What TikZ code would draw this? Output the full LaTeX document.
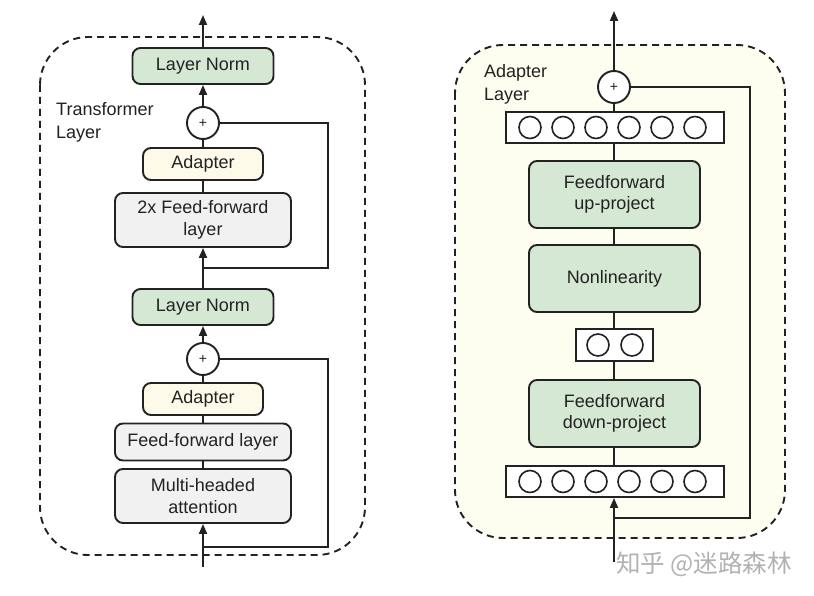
\documentclass[tikz,border=0pt]{standalone}
\usepackage{fontspec}
\setmainfont{Liberation Sans}
\newfontfamily\cjkfont{Noto Sans CJK SC}
\usetikzlibrary{arrows.meta}
\definecolor{gfill}{HTML}{D5E8D4}
\definecolor{yfill}{HTML}{FDFAEA}
\definecolor{grayfill}{HTML}{F1F1F1}
\definecolor{bgfill}{HTML}{FDFDF0}
\definecolor{ink}{HTML}{222222}
\begin{document}
\begin{tikzpicture}[x=1pt,y=-1pt,
  box/.style={draw=ink, line width=1.9pt, rounded corners=8pt, align=center, inner sep=0pt, text=ink, font=\fontsize{18}{21.5}\selectfont},
  normbox/.style={box, fill=gfill, minimum width=141pt, minimum height=36pt},
  adbox/.style={box, fill=yfill, minimum width=120pt, minimum height=32pt},
  graybox/.style={box, fill=grayfill, minimum width=176pt},
  projbox/.style={box, fill=gfill, minimum width=171pt, minimum height=67pt},
  rowbox/.style={draw=ink, line width=1.9pt, fill=white, inner sep=0pt, minimum height=31pt},
  neuron/.style={draw=ink, line width=1.6pt, circle, fill=white, minimum size=22pt, inner sep=0pt},
  plus/.style={draw=ink, line width=1.9pt, circle, fill=white, minimum size=32pt, inner sep=0pt, font=\fontsize{14}{14}\selectfont, text=ink},
  conn/.style={draw=ink, line width=1.9pt},
  arr/.style={conn, -{Triangle[length=10pt,width=8pt]}},
  container/.style={draw=ink, line width=1.9pt, dash pattern=on 7pt off 5pt, rounded corners=48pt},
  lbl/.style={align=left, anchor=west, text=ink, inner sep=0pt, font=\fontsize{18}{23}\selectfont}
]
\useasboundingbox (0,0) rectangle (814,596);
\fill[white] (0,0) rectangle (814,596);

% containers
\draw[container] (40,37) rectangle (365,555);
\draw[container, fill=bgfill] (455,45) rectangle (785,538);

% ---------- left: transformer layer ----------
\node[lbl] (tl) at (56,122) {Transformer\\Layer};
\node[normbox] (ln2) at (203,66) {Layer Norm};
\node[plus] (p2) at (203,123) {+};
\node[adbox] (ad2) at (203,164) {Adapter};
\node[graybox, minimum height=54pt] (ff2) at (203,220) {2x Feed-forward\\layer};
\node[normbox] (ln1) at (203,307) {Layer Norm};
\node[plus] (p1) at (203,359) {+};
\node[adbox] (ad1) at (203,399) {Adapter};
\node[graybox, minimum height=37pt] (ff1) at (203,442) {Feed-forward layer};
\node[graybox, minimum height=54pt] (mha) at (203,496) {Multi-headed\\attention};
\coordinate (inL) at (203,567);
\coordinate (outL) at (203,15);
\coordinate (sL1) at (203,547);
\coordinate (sL2) at (203,268);

\draw[arr] (inL) -- (mha.south);
\draw[conn] (mha.north) -- (ff1.south);
\draw[conn] (ff1.north) -- (ad1.south);
\draw[conn] (ad1.north) -- (p1.south);
\draw[arr] (p1.north) -- (ln1.south);
\draw[arr] (ln1.north) -- (ff2.south);
\draw[conn] (ff2.north) -- (ad2.south);
\draw[conn] (ad2.north) -- (p2.south);
\draw[arr] (p2.north) -- (ln2.south);
\draw[arr] (ln2.north) -- (outL);
\draw[conn] (sL1) -- (328,547) |- (p1.east);
\draw[conn] (sL2) -- (328,268) |- (p2.east);

% ---------- right: adapter layer ----------
\node[lbl] (al) at (484,84) {Adapter\\Layer};
\node[plus] (pa) at (614,87) {+};
\node[rowbox, minimum width=218pt] (rtop) at (615,127.5) {};
\foreach \i in {0,...,5} \node[neuron] (nt\i) at (530+33*\i,127.5) {};
\node[projbox] (up) at (614.5,194.5) {Feedforward\\up-project};
\node[projbox] (nl) at (614.5,278.5) {Nonlinearity};
\node[rowbox, minimum width=77pt, minimum height=32pt] (rmid) at (614.5,345) {};
\node[neuron] (nm0) at (598,345) {};
\node[neuron] (nm1) at (632,345) {};
\node[projbox] (down) at (614.5,413.5) {Feedforward\\down-project};
\node[rowbox, minimum width=218pt] (rbot) at (615,481.5) {};
\foreach \i in {0,...,5} \node[neuron] (nb\i) at (530+33*\i,481.5) {};
\coordinate (inR) at (614,562);
\coordinate (outR) at (614,11);
\coordinate (sR) at (614,518);

\draw[arr] (inR) -- (rbot.south -| inR);
\draw[conn] (rbot.north -| inR) -- (down.south -| inR);
\draw[conn] (down.north -| inR) -- (rmid.south -| inR);
\draw[conn] (rmid.north -| inR) -- (nl.south -| inR);
\draw[conn] (nl.north -| inR) -- (up.south -| inR);
\draw[conn] (up.north -| inR) -- (rtop.south -| inR);
\draw[conn] (rtop.north -| inR) -- (pa.south);
\draw[arr] (pa.north) -- (outR);
\draw[conn] (sR) -- (750,518) |- (pa.east);

% watermark
\node[anchor=west, inner sep=0pt, text=black!30, font=\cjkfont\fontsize{24.5}{26}\selectfont] (wm) at (616,564) {知乎 @迷路森林};
\end{tikzpicture}
\end{document}
